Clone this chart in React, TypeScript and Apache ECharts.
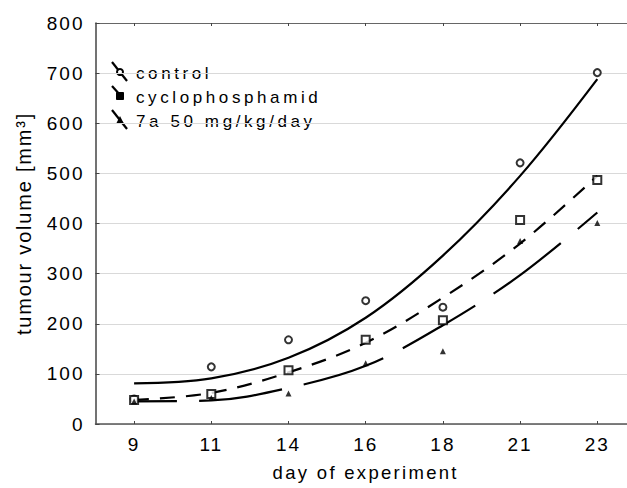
import React, { useEffect, useRef } from "react";
import * as echarts from "echarts";

// categories (day of experiment)
const days = ["9", "11", "14", "16", "18", "21", "23"];

// measured points
const controlPoints = [50, 114, 168, 246, 233, 521, 701];
const cycloPoints = [48, 60, 107, 168, 207, 407, 487];
const a7Points = [45, 52, 61, 121, 145, 365, 401];

// fitted curves read at each category
const controlFit = [81, 91, 132, 212, 336, 495, 688];
const cycloFit = [48, 62, 103, 162, 252, 360, 495];
const a7Fit = [45, 47, 72, 116, 197, 297, 422];

const legendNames = ["control", "cyclophosphamid", "7a 50 mg/kg/day"];
const yMin = 0;
const yMax = 800;
const yInterval = 100;

const FONT = "Liberation Sans, Arial, sans-serif";

export default function App() {
  const ref = useRef<HTMLDivElement>(null);

  useEffect(() => {
    if (!ref.current) return;
    const chart = echarts.init(ref.current, undefined, { renderer: "svg" });

    const gridLeft = 95.5;
    const gridTop = 23;
    const gridW = 540.4;
    const gridH = 401;

    const legendRowsY = [72, 96, 120];
    const legendGraphics: any[] = [];
    legendNames.forEach((name, i) => {
      const yc = legendRowsY[i];
      legendGraphics.push({
        type: "line",
        shape: i === 1 ? { x1: 112, y1: yc - 10, x2: 121, y2: yc } : { x1: 112, y1: yc - 10, x2: 127, y2: yc + 9 },
        style: { stroke: "#000", lineWidth: 2.2 },
      });
      if (i === 0) {
        legendGraphics.push({ type: "circle", shape: { cx: 120, cy: yc, r: 3 }, style: { fill: "#fff", stroke: "#000", lineWidth: 2 } });
      } else if (i === 1) {
        legendGraphics.push({ type: "rect", shape: { x: 116.5, y: yc - 3.5, width: 7, height: 7 }, style: { fill: "#000", stroke: "#000", lineWidth: 1 } });
      } else {
        legendGraphics.push({ type: "polygon", shape: { points: [[120, yc - 4], [123.5, yc + 3], [116.5, yc + 3]] }, style: { fill: "#000" } });
      }
      legendGraphics.push({
        type: "text",
        x: 136,
        y: yc + 1,
        style: { text: name, fontSize: 17, fontFamily: FONT, fill: "#000", verticalAlign: "middle", align: "left" },
      });
    });

    const option: any = {
      animation: false,
      backgroundColor: "#fff",
      grid: { left: gridLeft, top: gridTop, width: gridW, height: gridH, containLabel: false },
      xAxis: [
        {
          type: "category",
          data: days,
          boundaryGap: true,
          position: "bottom",
          name: "day of experiment",
          nameLocation: "middle",
          nameGap: 39,
          nameTextStyle: { fontSize: 18.5, fontFamily: FONT, color: "#000" },
          axisLine: { show: true, lineStyle: { color: "#555", width: 1.5 } },
          axisTick: { show: true, inside: true, length: 3, alignWithLabel: true, lineStyle: { color: "#444", width: 1 } },
          axisLabel: { fontSize: 19, fontFamily: FONT, color: "#000", margin: 11 },
          splitLine: { show: false },
        },
        {
          type: "category",
          data: days,
          boundaryGap: true,
          position: "top",
          axisLine: { show: true, lineStyle: { color: "#666", width: 1.2 } },
          axisTick: { show: true, inside: true, length: 3, alignWithLabel: true, lineStyle: { color: "#444", width: 1 } },
          axisLabel: { show: false },
          splitLine: { show: false },
        },
      ],
      yAxis: {
        type: "value",
        min: yMin,
        max: yMax,
        interval: yInterval,
        name: "tumour volume [mm³]",
        nameLocation: "middle",
        nameGap: 62,
        nameTextStyle: { fontSize: 20, fontFamily: FONT, color: "#000" },
        axisLine: { show: true, lineStyle: { color: "#444", width: 1.5 } },
        axisTick: { show: true, inside: true, length: 4, lineStyle: { color: "#444", width: 1 } },
        axisLabel: { fontSize: 19, fontFamily: FONT, color: "#000", margin: 11 },
        splitLine: { show: true, lineStyle: { color: "#d9d9d9", width: 1 } },
      },
      series: [
        {
          name: "control fit",
          type: "line",
          data: controlFit,
          smooth: 0.35,
          symbol: "none",
          lineStyle: { color: "#000", width: 2.2, type: "solid" },
          z: 2,
        },
        {
          name: "cyclophosphamid fit",
          type: "line",
          data: cycloFit,
          smooth: 0.35,
          symbol: "none",
          lineStyle: { color: "#000", width: 2.2, type: [15, 11] },
          z: 2,
        },
        {
          name: "7a fit",
          type: "line",
          data: a7Fit,
          smooth: 0.35,
          symbol: "none",
          lineStyle: { color: "#000", width: 2.2, type: [84, 22], dashOffset: 41 },
          z: 2,
        },
        {
          name: "control",
          type: "scatter",
          data: controlPoints,
          symbol: "emptyCircle",
          symbolSize: 7,
          itemStyle: { color: "#000", borderColor: "#000", borderWidth: 2 },
          z: 3,
        },
        {
          name: "cyclophosphamid",
          type: "scatter",
          data: cycloPoints,
          symbol: "emptyRect",
          symbolSize: 8,
          itemStyle: { color: "#000", borderColor: "#000", borderWidth: 2.2 },
          z: 3,
        },
        {
          name: "7a 50 mg/kg/day",
          type: "scatter",
          data: a7Points,
          symbol: "triangle",
          symbolSize: 6,
          itemStyle: { color: "#000" },
          z: 3,
        },
      ],
      graphic: legendGraphics,
    };

    chart.setOption(option);
    return () => chart.dispose();
  }, []);

  return (
    <>
      <style>{`
        #chart text[style*="19px"] { letter-spacing: 2px; }
        #chart text[style*="17px"] { letter-spacing: 3.6px; }
        #chart text[style*="20px"] { letter-spacing: 1.8px; }
        #chart text[style*="18.5px"] { letter-spacing: 2.3px; }
      `}</style>
      <div
        style={{ position: "absolute", left: 0, top: 0, width: 627, height: 488, overflow: "hidden", background: "#fff" }}
      >
        <div id="chart" ref={ref} style={{ position: "absolute", left: 0, top: 0, width: 650, height: 488 }} />
      </div>
    </>
  );
}
